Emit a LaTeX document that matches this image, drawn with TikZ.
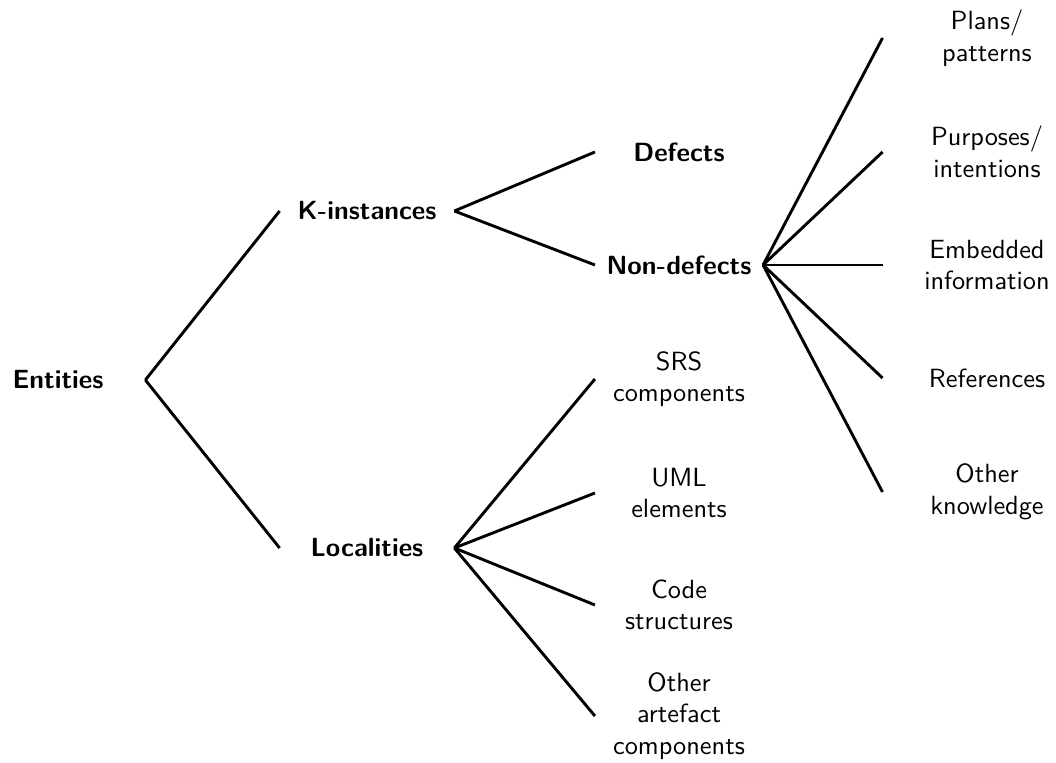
\documentclass[tikz,border=0pt]{standalone}
\usepackage{tikz}
\renewcommand{\familydefault}{\sfdefault}

\begin{document}
\begin{tikzpicture}[
  x=0.38pt,y=-0.38pt,
  every node/.style={font=\sffamily,align=center},
  head/.style={font=\sffamily\bfseries,minimum width=66pt},
  mid/.style={minimum width=63.5pt},
  midhead/.style={font=\sffamily\bfseries,minimum width=63.5pt},
  leaf/.style={minimum width=79pt},
  edge/.style={line width=1.1pt,color=black}
]
  \useasboundingbox (0,0) rectangle (1056,763);

  \node[head] (entities) at (58,380) {Entities};
  \node[head] (kinst) at (367,211) {K-instances};
  \node[head] (local) at (367,548) {Localities};

  \node[midhead] (defects) at (679,152) {Defects};
  \node[midhead] (nondef) at (679,265) {Non-defects};
  \node[mid] (srs) at (679,379) {SRS\\components};
  \node[mid] (uml) at (679,493) {UML\\elements};
  \node[mid] (code) at (679,605) {Code\\structures};
  \node[mid] (otherart) at (679,716) {Other\\artefact\\components};

  \node[leaf] (plans) at (987,38) {Plans/\\patterns};
  \node[leaf] (purp) at (987,152) {Purposes/\\intentions};
  \node[leaf] (embed) at (987,265) {Embedded\\information};
  \node[leaf] (refs) at (987,378) {References};
  \node[leaf] (otherknow) at (987,492) {Other\\knowledge};

  \draw[edge] (entities.east) -- (kinst.west);
  \draw[edge] (entities.east) -- (local.west);

  \draw[edge] (kinst.east) -- (defects.west);
  \draw[edge] (kinst.east) -- (nondef.west);

  \draw[edge] (local.east) -- (srs.west);
  \draw[edge] (local.east) -- (uml.west);
  \draw[edge] (local.east) -- (code.west);
  \draw[edge] (local.east) -- (otherart.west);

  \draw[edge] (nondef.east) -- (plans.west);
  \draw[edge] (nondef.east) -- (purp.west);
  \draw[edge] (nondef.east) -- (embed.west);
  \draw[edge] (nondef.east) -- (refs.west);
  \draw[edge] (nondef.east) -- (otherknow.west);
\end{tikzpicture}
\end{document}
